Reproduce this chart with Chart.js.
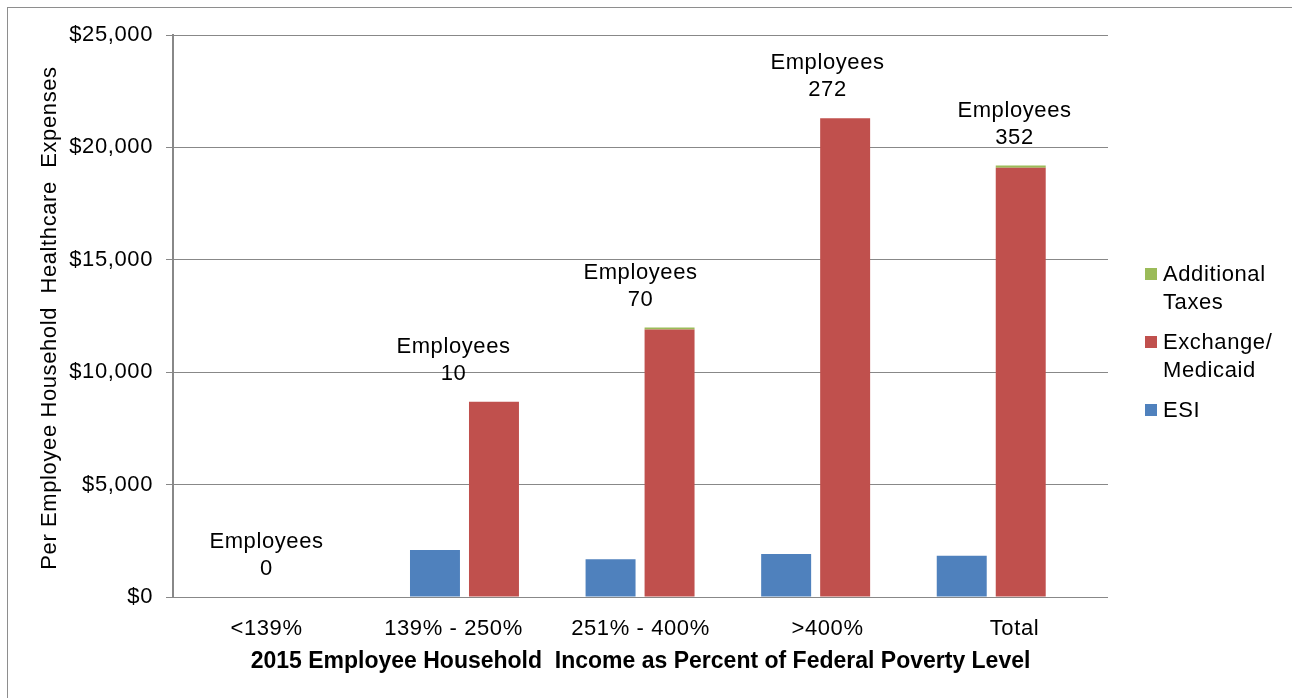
<!DOCTYPE html>
<html>
<head>
<meta charset="utf-8">
<script src="https://cdn.jsdelivr.net/npm/chart.js@4.4.1/dist/chart.umd.min.js"></script>
<style>
  html, body { margin: 0; padding: 0; background: #fff; overflow: hidden; }
  #wrap { position: relative; width: 1292px; height: 698px; }
  #frame { position: absolute; left: 7px; top: 7px; width: 1400px; height: 800px; border: 1px solid #8e8e8e; box-sizing: border-box; }
  #chart { position: absolute; left: 0; top: 0; }
  #legend { position: absolute; left: 1145px; top: 260px; font: 22px "Liberation Sans", Arial, sans-serif; color: #000; letter-spacing: 0.6px; }
  .item { position: relative; padding-left: 18px; line-height: 28px; margin-bottom: 12px; }
  .box { position: absolute; left: 0; top: 8px; width: 12px; height: 12px; }
</style>
</head>
<body>
<div id="wrap">
  <div id="frame"></div>
  <canvas id="chart" width="1292" height="698"></canvas>
  <div id="legend"></div>
</div>
<script>
  const categories = ["<139%", "139% - 250%", "251% - 400%", ">400%", "Total"];
  const employees = [0, 10, 70, 272, 352];
  const esi = [0, 2090, 1680, 1910, 1840];
  const exchangeMedicaid = [0, 8690, 11900, 21300, 19100];
  const additionalTaxes = [0, 0, 90, 0, 90];
  const yTicks = [0, 5000, 10000, 15000, 20000, 25000];

  const seriesNames = ["ESI", ["Exchange/", "Medicaid"], ["Additional", "Taxes"]];
  const seriesColors = ["#4F81BD", "#C0504D", "#9BBB59"];

  const FONT = "'Liberation Sans', Arial, sans-serif";
  const GRID = "#888888";

  const points = (values) => values.map((v, i) => ({ x: i, y: v }));

  const annotate = {
    id: "annotate",
    beforeDraw(chart) {
      chart.ctx.letterSpacing = "0.6px";
    },
    afterDatasetsDraw(chart) {
      const { ctx, scales, chartArea } = chart;
      ctx.save();
      ctx.fillStyle = "#000";
      ctx.textAlign = "center";
      ctx.textBaseline = "middle";
      ctx.font = `22px ${FONT}`;
      categories.forEach((c, i) => {
        const x = scales.x.getPixelForValue(i);
        const top = scales.y.getPixelForValue(Math.max(esi[i], exchangeMedicaid[i] + additionalTaxes[i]));
        ctx.fillText("Employees", x, top - 55);
        ctx.fillText(String(employees[i]), x, top - 28);
      });

      // axis titles
      ctx.font = `bold 23px ${FONT}`;
      ctx.letterSpacing = "0px";
      ctx.fillText("2015 Employee Household  Income as Percent of Federal Poverty Level", (chartArea.left + chartArea.right) / 2, 662);

      ctx.font = `22px ${FONT}`;
      ctx.letterSpacing = "0.6px";
      ctx.translate(50, (chartArea.top + chartArea.bottom) / 2 + 2);
      ctx.rotate(-Math.PI / 2);
      ctx.fillText("Per Employee Household  Healthcare  Expenses", 0, 0);
      ctx.restore();
    },
  };

  new Chart(document.getElementById("chart"), {
    type: "bar",
    data: {
      labels: categories,
      datasets: [
        { label: "ESI", data: points(esi), backgroundColor: seriesColors[0], stack: "esi", xAxisID: "xb" },
        { label: "Exchange/Medicaid", data: points(exchangeMedicaid), backgroundColor: seriesColors[1], stack: "exchange", xAxisID: "xb" },
        { label: "Additional Taxes", data: points(additionalTaxes), backgroundColor: seriesColors[2], stack: "exchange", xAxisID: "xb" },
      ],
    },
    options: {
      responsive: false,
      animation: false,
      events: [],
      categoryPercentage: 0.672,
      barPercentage: 0.847,
      layout: { padding: { top: 35, right: 184, left: 0, bottom: 0 } },
      plugins: { legend: { display: false }, tooltip: { enabled: false } },
      scales: {
        x: {
          type: "category",
          labels: categories,
          offset: true,
          grid: { display: false, drawTicks: false },
          border: { display: false },
          ticks: { color: "#000", font: { family: FONT, size: 22 }, padding: 19, maxRotation: 0 },
          afterFit(s) { s.height = 101; },
        },
        xb: {
          type: "linear",
          display: false,
          offset: false,
          min: -0.66,
          max: 4.665,
          afterBuildTicks(s) { s.ticks = [0, 1, 2, 3, 4].map((v) => ({ value: v })); },
        },
        y: {
          stacked: true,
          min: 0,
          max: 25000,
          afterBuildTicks(s) { s.ticks = yTicks.map((v) => ({ value: v })); },
          ticks: {
            color: "#000",
            font: { family: FONT, size: 22 },
            padding: 13,
            callback: (v) => "$" + Number(v).toLocaleString("en-US"),
          },
          grid: { color: GRID, lineWidth: 1, tickLength: 7 },
          border: { color: GRID, width: 2 },
          afterFit(s) { s.width = 173; },
        },
      },
    },
    plugins: [annotate],
  });

  // legend, reversed like the original
  const legend = document.getElementById("legend");
  [2, 1, 0].forEach((k) => {
    const item = document.createElement("div");
    item.className = "item";
    const box = document.createElement("span");
    box.className = "box";
    box.style.background = seriesColors[k];
    item.appendChild(box);
    const name = [].concat(seriesNames[k]);
    name.forEach((line, j) => {
      if (j) item.appendChild(document.createElement("br"));
      item.appendChild(document.createTextNode(line));
    });
    legend.appendChild(item);
  });
</script>
</body>
</html>
